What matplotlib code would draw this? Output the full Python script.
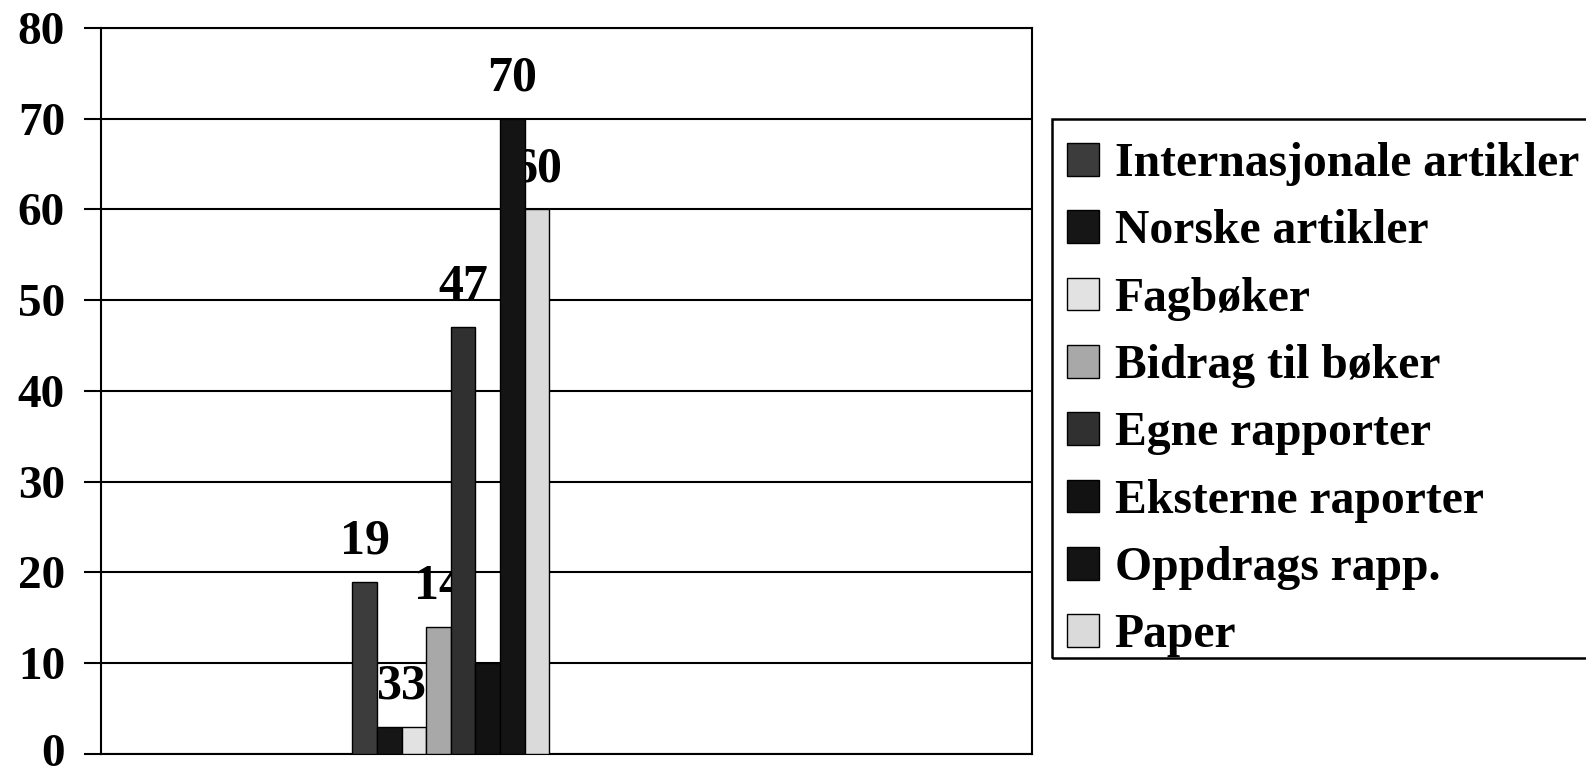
import matplotlib
matplotlib.use("Agg")
import matplotlib.pyplot as plt
import matplotlib.transforms as mtransforms
from matplotlib.patches import Rectangle
import numpy as np

categories = ["Internasjonale artikler", "Norske artikler", "Fagbøker", "Bidrag til bøker",
              "Egne rapporter", "Eksterne raporter", "Oppdrags rapp.", "Paper"]
values = [19, 3, 3, 14, 47, 10, 70, 60]
# the label of the 10-bar is not visible in the original
value_labels = ["19", "3", "3", "14", "47", "", "70", "60"]
colors = ["#3c3c3c", "#161616", "#e2e2e2", "#a8a8a8", "#303030", "#121212", "#141414", "#dadada"]
yticks = [0, 10, 20, 30, 40, 50, 60, 70, 80]

plt.rcParams['font.family'] = ['Liberation Serif', 'DejaVu Serif']
plt.rcParams['font.weight'] = 'bold'

W, H = 15.86, 7.76
fig = plt.figure(figsize=(W, H), dpi=100)
ax = fig.add_axes([0.0637, 0.0284, 0.587, 0.9356])

n = len(values)
width = 1.0
xs = np.arange(n) - (n - 1) / 2
bars = []
for x, v, c, lab in zip(xs, values, colors, categories):
    b = ax.bar(x, v, width=width, color=c, edgecolor="black", linewidth=1.0, label=lab, zorder=3)
    bars.append(b)

for x, v, t in zip(xs, values, value_labels):
    if t:
        ax.text(x, v + 1.9, t, ha="center", va="bottom", fontsize=36, fontweight="bold",
                zorder=2)

ax.set_xlim(-14.2, 23.6)
ax.set_ylim(0, 80)
ax.set_yticks(yticks)
ax.set_yticklabels([str(t) for t in yticks], fontsize=34, fontweight="bold")
ax.set_xticks([])
ax.tick_params(axis="y", direction="out", length=12, width=1.5, pad=14)
ax.yaxis.grid(True, color="black", linewidth=1.5, zorder=0)
ax.set_axisbelow(True)
for s in ax.spines.values():
    s.set_linewidth(1.5)
    s.set_color("black")

# nudge the "0" tick label up a little so it is not clipped by the figure edge
lbl0 = ax.get_yticklabels()[0]
lbl0.set_transform(lbl0.get_transform() + mtransforms.ScaledTranslation(0, 3 / 72, fig.dpi_scale_trans))

leg = fig.legend(handles=[b[0] for b in bars], labels=categories,
                 loc="upper left", bbox_to_anchor=(1067 / 1586, 1 - 142 / 776),
                 prop={'weight': 'bold', 'size': 34.3},
                 frameon=False,
                 handlelength=0.68, handleheight=0.68, handletextpad=0.32,
                 labelspacing=0.49, borderpad=0.0, borderaxespad=0)

# legend frame (extends past the right edge as in the original)
fig.patches.append(Rectangle((1052 / 1586, 1 - 658 / 776), 0.4, (658 - 119) / 776,
                             transform=fig.transFigure, fill=False, edgecolor="black",
                             linewidth=1.8, zorder=5))

fig.savefig("out.png", dpi=100)
